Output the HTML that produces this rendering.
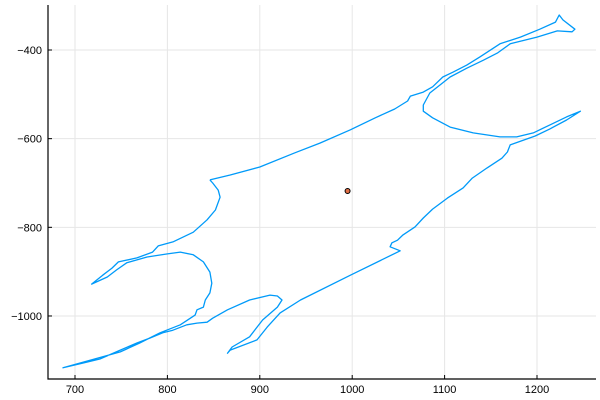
<!DOCTYPE html>
<html><head><meta charset="utf-8"><style>
body{margin:0;background:#fff;}
svg{display:block;font-family:"Liberation Sans",sans-serif;}
</style></head><body>
<svg id="chart" width="600" height="400">
<g id="grid"></g>
<g id="series"></g>
<g id="axes"></g>
</svg>
<script>
const xTicks=[700,800,900,1000,1100,1200];
const yTicks=[-400,-600,-800,-1000];
const pathX=[846,868,900,938,965,998,1025,1046,1060,1063,1077,1087,1098,1109,1124,1138,1160,1182,1203,1220,1224,1228,1241,1238,1222,1200,1171,1157,1142,1124,1106,1095,1084,1077,1077,1087,1106,1131,1160,1178,1196,1214,1232,1247,1232,1214,1198,1171,1168,1162,1146,1130,1120,1103,1087,1077,1068,1055,1049,1043,1041,1052,998,944,922,908,897,868,865,870,889,903,919,924,919,911,889,865,849,843,832,821,806,795,781,767,749,727,709,687,709,749,770,792,814,830,832,839,841,846,848,846,839,828,814,800,778,756,745,735,718,730,740,747,767,784,790,806,828,843,852,857,855,849,846];
const pathY=[-693,-682,-664,-632,-610,-580,-553,-533,-515,-504,-495,-483,-461,-450,-434,-416,-386,-371,-353,-337,-321,-332,-353,-359,-357,-371,-386,-407,-423,-441,-461,-479,-497,-524,-538,-553,-574,-587,-596,-596,-587,-569,-551,-538,-558,-578,-594,-614,-630,-644,-666,-689,-711,-734,-759,-779,-799,-817,-829,-835,-844,-853,-908,-964,-993,-1025,-1054,-1077,-1084,-1070,-1047,-1009,-980,-964,-955,-953,-964,-986,-1005,-1014,-1016,-1020,-1032,-1038,-1050,-1061,-1077,-1097,-1106,-1117,-1104,-1081,-1061,-1038,-1020,-998,-986,-980,-964,-948,-926,-901,-878,-862,-856,-860,-867,-880,-896,-912,-928,-908,-892,-878,-869,-856,-842,-833,-811,-783,-761,-732,-716,-700,-693];
const pointX=[995];
const pointY=[-718];

const L=48,R=596,T=5,B=379;
const sx=v=>75+(v-700)*0.924;
const sy=v=>50-(v+400)*0.4433;
const NS='http://www.w3.org/2000/svg';
function mk(tag,parent,attrs){const e=document.createElementNS(NS,tag);for(const k in attrs)e.setAttribute(k,attrs[k]);parent.appendChild(e);return e;}
const grid=document.getElementById('grid'),axes=document.getElementById('axes'),series=document.getElementById('series');
xTicks.forEach(t=>{
  const g=mk('line',grid,{x1:sx(t),x2:sx(t),y1:T,y2:B,stroke:'#e6e6e6','stroke-width':1});
  
  
  const tk=mk('line',axes,{x1:sx(t),x2:sx(t),y1:B,y2:B-4,stroke:'#000','stroke-width':1});
  
  
  const tx=mk('text',axes,{x:sx(t),y:B+14,'text-anchor':'middle','font-size':11,fill:'#000'});
  tx.textContent=t;
  
  
});
yTicks.forEach(t=>{
  const g=mk('line',grid,{x1:L,x2:R,y1:sy(t),y2:sy(t),stroke:'#e6e6e6','stroke-width':1});
  
  
  const tk=mk('line',axes,{x1:L,x2:L+4,y1:sy(t),y2:sy(t),stroke:'#000','stroke-width':1});
  
  
  const tx=mk('text',axes,{x:L-6,y:sy(t)+4,'text-anchor':'end','font-size':11,fill:'#000'});
  tx.textContent='\u2212'+Math.abs(t);
  
  
});
const ax=mk('path',axes,{d:`M${L},${T}V${B}H${R}`,fill:'none',stroke:'#000','stroke-width':1.2});


let d='';
pathX.forEach((v,i)=>{d+=(i?'L':'M')+sx(v).toFixed(1)+','+sy(pathY[i]).toFixed(1);});
const p=mk('path',series,{d:d,fill:'none',stroke:'#009af9','stroke-width':1.3,'stroke-linejoin':'round'});


pointX.forEach((v,i)=>{
  const c=mk('circle',series,{cx:sx(v),cy:sy(pointY[i]),r:2.5,fill:'#e26f46',stroke:'#000','stroke-width':1});
  
  
});
</script>
</body></html>
